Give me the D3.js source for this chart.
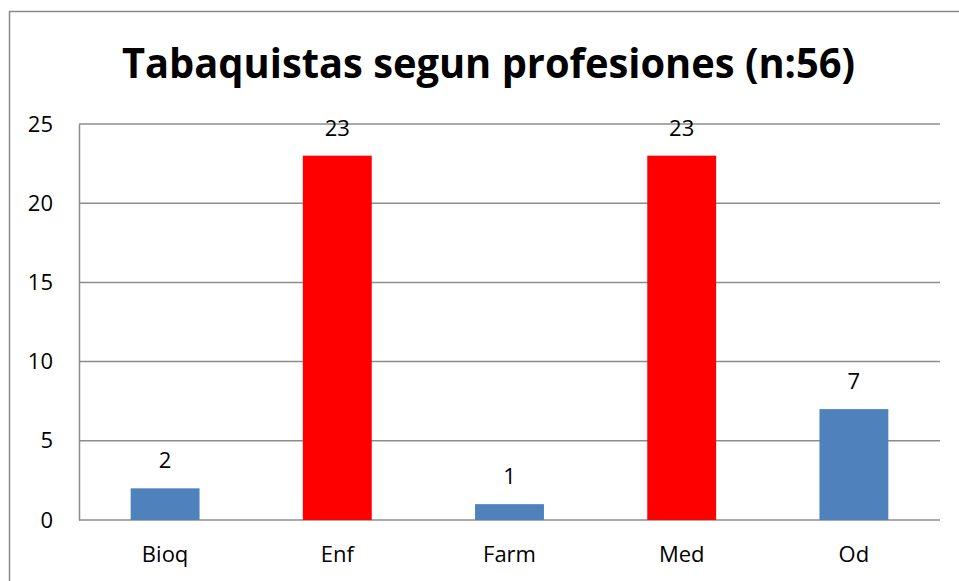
<!DOCTYPE html>
<html>
<head>
<meta charset="utf-8">
<script src="https://cdn.jsdelivr.net/npm/d3@7"></script>
<style>
  body { margin: 0; background: #fff; }
  text { font-family: "Open Sans", "Noto Sans", sans-serif; }
</style>
</head>
<body>
<div id="chart"></div>
<script>
const categories = ["Bioq", "Enf", "Farm", "Med", "Od"];
const values = [2, 23, 1, 23, 7];
const highlight = [false, true, false, true, false];
const yTicks = [0, 5, 10, 15, 20, 25];
const title = "Tabaquistas segun profesiones (n:56)";

(function () {
    const W = 959, H = 581;
    const margin = { top: 124, right: 19, bottom: 61, left: 79 };
    const width = W - margin.left - margin.right;
    const height = H - margin.top - margin.bottom;

    const root = d3.select("#chart")
        .append("svg")
        .attr("width", W)
        .attr("height", H);

    // chart border (runs off the right and bottom edges)
    root.append("rect")
        .attr("x", 9.5)
        .attr("y", 11.5)
        .attr("width", W + 20)
        .attr("height", H + 20)
        .attr("fill", "none")
        .attr("stroke", "#8a8a8a")
        .attr("stroke-width", 1.5);

    root.append("text")
        .attr("x", 122)
        .attr("y", 78)
        .attr("textLength", 733)
        .attr("lengthAdjust", "spacingAndGlyphs")
        .attr("font-size", 42)
        .attr("font-weight", "bold")
        .attr("fill", "#000")
        .text(title);

    const svg = root.append("g")
        .attr("transform", `translate(${margin.left},${margin.top})`);

    const x = d3.scaleBand()
        .domain(categories)
        .range([0, width])
        .paddingInner(0.6)
        .paddingOuter(0.3);

    const y = d3.scaleLinear()
        .domain([0, 25])
        .range([height, 0]);

    // gridlines
    svg.append("g")
        .selectAll("line")
        .data(yTicks)
        .join("line")
        .attr("x1", 0)
        .attr("x2", width)
        .attr("y1", d => y(d))
        .attr("y2", d => y(d))
        .attr("stroke", "#8c8c8c")
        .attr("stroke-width", 1.5);

    // y axis
    const yAxis = svg.append("g")
        .call(d3.axisLeft(y).tickValues(yTicks).tickSize(0).tickPadding(26));
    yAxis.select(".domain").attr("stroke", "#8c8c8c").attr("stroke-width", 1.5);
    yAxis.selectAll("text")
        .attr("font-size", 22)
        .attr("fill", "#000")
        .attr("font-family", "Open Sans, sans-serif");

    // x axis labels
    const xAxis = svg.append("g")
        .attr("transform", `translate(0,${height})`)
        .call(d3.axisBottom(x).tickSize(0).tickPadding(26));
    xAxis.select(".domain").remove();
    xAxis.selectAll("text")
        .attr("font-size", 22)
        .attr("fill", "#000")
        .attr("font-family", "Open Sans, sans-serif");

    const data = categories.map((c, i) => ({ c, v: values[i], hi: highlight[i] }));

    svg.selectAll(".bar")
        .data(data)
        .join("rect")
        .attr("class", "bar")
        .attr("x", d => x(d.c))
        .attr("y", d => y(d.v))
        .attr("width", x.bandwidth())
        .attr("height", d => height - y(d.v))
        .attr("fill", d => d.hi ? "#ff0000" : "#4f81bd");

    svg.selectAll(".lbl")
        .data(data)
        .join("text")
        .attr("class", "lbl")
        .attr("x", d => x(d.c) + x.bandwidth() / 2)
        .attr("y", d => y(d.v) - 20)
        .attr("text-anchor", "middle")
        .attr("font-size", 22)
        .attr("fill", "#000")
        .text(d => d.v);
})();
</script>
</body>
</html>
